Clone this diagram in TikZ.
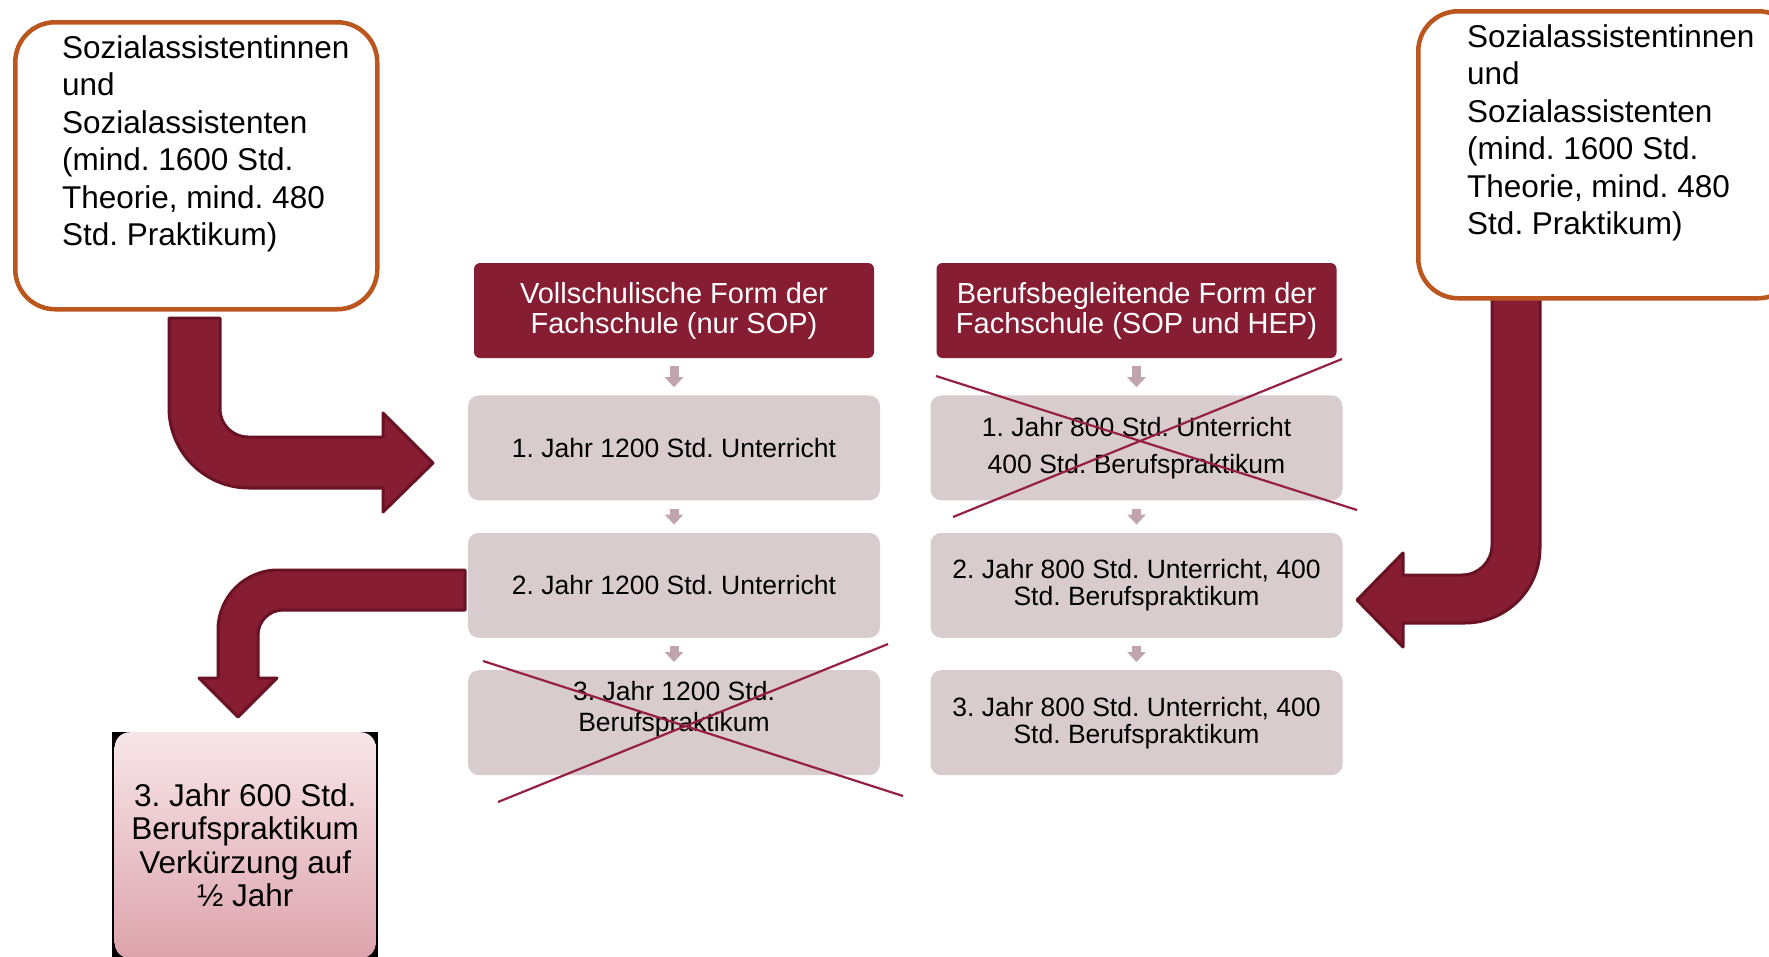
\documentclass[tikz,border=0pt]{standalone}
\usepackage{fontspec}
\setmainfont{Liberation Sans}
\frenchspacing
\usetikzlibrary{arrows.meta,positioning}
\definecolor{wine}{RGB}{134,29,50}
\definecolor{winedark}{RGB}{104,18,36}
\definecolor{rust}{RGB}{186,86,30}
\definecolor{rowgrey}{RGB}{217,204,206}
\definecolor{stepgrey}{RGB}{192,166,172}
\definecolor{crossred}{RGB}{150,32,66}
\definecolor{pinktop}{RGB}{247,230,233}
\definecolor{pinkbot}{RGB}{221,163,172}

\begin{document}
\begin{tikzpicture}[x=1pt,y=-1pt,
    headbox/.style={fill=wine, text=white, rounded corners=6pt, minimum width=400pt, minimum height=95pt, inner sep=0pt, align=center, font=\fontsize{29}{30}\selectfont},
    rowbox/.style={fill=rowgrey, rounded corners=11pt, minimum width=412pt, minimum height=105pt, inner sep=0pt, align=center, font=\fontsize{26.5}{27}\selectfont},
    sidebox/.style={draw=rust, line width=4.5pt, fill=white, rounded corners=40pt, minimum width=362pt, minimum height=287pt, inner sep=0pt},
    sidetext/.style={inner sep=0pt, align=left, font=\fontsize{31.5}{37.5}\selectfont},
    smallstep/.style={draw=stepgrey, line width=9pt, -{Triangle[width=18pt,length=10pt]}, shorten <=8pt, shorten >=8pt},
    bigarrow/.style={fill=wine, draw=winedark, line width=3pt, line join=round},
    strike/.style={draw=crossred, line width=2.2pt}
]
    % Page frame
    \useasboundingbox (0,0) rectangle (1769,956);
    \fill[white] (0,0) rectangle (1769,956);
    \clip (0,0) rectangle (1769,956);

    % Column heads
    \node[headbox] (vhead) at (674,310.5) {Vollschulische Form der\\Fachschule (nur SOP)};
    \node[headbox] (bhead) at (1136.5,310.5) {Berufsbegleitende Form der\\Fachschule (SOP und HEP)};

    % Years, full-time form
    \node[rowbox, below=37pt of vhead] (v1) {1. Jahr 1200 Std. Unterricht};
    \node[rowbox, below=32pt of v1] (v2) {2. Jahr 1200 Std. Unterricht};
    \node[rowbox, below=32pt of v2,
        label={[yshift=14pt, align=center, font=\fontsize{26.5}{31}\selectfont]center:3. Jahr 1200 Std.\\Berufspraktikum}] (v3) {};

    % Years, part-time form
    \node[rowbox, below=37pt of bhead] (b1) {1. Jahr 800 Std. Unterricht\\[10pt]400 Std. Berufspraktikum};
    \node[rowbox, below=32pt of b1] (b2) {2. Jahr 800 Std. Unterricht, 400\\Std. Berufspraktikum};
    \node[rowbox, below=32pt of b2] (b3) {3. Jahr 800 Std. Unterricht, 400\\Std. Berufspraktikum};

    % Small steps between the boxes
    \foreach \a/\b in {vhead/v1, v1/v2, v2/v3, bhead/b1, b1/b2, b2/b3}
        \draw[smallstep] (\a) -- (\b);

    % Struck out boxes
    \draw[strike] (483,661) -- (903,796);
    \draw[strike] (498,802) -- (888,644);
    \draw[strike] (936,376) -- (1357,510);
    \draw[strike] (953,517) -- (1342,359);

    % Bent block arrows
    \draw[bigarrow] (169,318) -- (220,318) -- (220,409) .. controls (220,424.5) and (232.5,437) .. (248,437)
        -- (383,437) -- (383,413) -- (433,463) -- (383,512) -- (383,488) -- (249,488)
        .. controls (204.8,488) and (169,452.2) .. (169,408) -- cycle;
    \draw[bigarrow] (1540,298) -- (1492,298) -- (1492,545) .. controls (1492,561.6) and (1478.6,575) .. (1462,575)
        -- (1403,575) -- (1403,553) -- (1357,600) -- (1403,647) -- (1403,623) -- (1465,623)
        .. controls (1506.4,623) and (1540,589.4) .. (1540,548) -- cycle;
    \draw[bigarrow] (465,570) -- (278,570) .. controls (244.9,570) and (218,596.9) .. (218,630)
        -- (218,678) -- (199,678) -- (238,717) -- (277,678) -- (258,678) -- (258,635)
        .. controls (258,621.2) and (269.2,610) .. (283,610) -- (465,610) -- cycle;

    % Social assistants boxes
    \node[sidebox, anchor=north west] (lside) at (13,20) {};
    \node[sidetext, anchor=north west] (ltext) at (62,35) {Sozialassistentinnen\\und\\Sozialassistenten\\(mind. 1600 Std.\\Theorie, mind. 480\\Std. Praktikum)};
    \node[sidebox, anchor=north west, minimum width=380pt] (rside) at (1416,9) {};
    \node[sidetext, anchor=north west] (rtext) at (1467,24) {Sozialassistentinnen\\und\\Sozialassistenten\\(mind. 1600 Std.\\Theorie, mind. 480\\Std. Praktikum)};

    % Shortened practical year
    \node[anchor=north west, fill=black, minimum width=266pt, minimum height=230pt, inner sep=0pt] (kback) at (112,732) {};
    \node[top color=pinktop, bottom color=pinkbot, rounded corners=15pt, minimum width=261pt, minimum height=226pt,
        inner sep=0pt, align=center, font=\fontsize{31.5}{33.5}\selectfont] (kurz) at ([yshift=2pt]kback.center)
        {3. Jahr 600 Std.\\Berufspraktikum\\Verkürzung auf\\½ Jahr};
\end{tikzpicture}
\end{document}
